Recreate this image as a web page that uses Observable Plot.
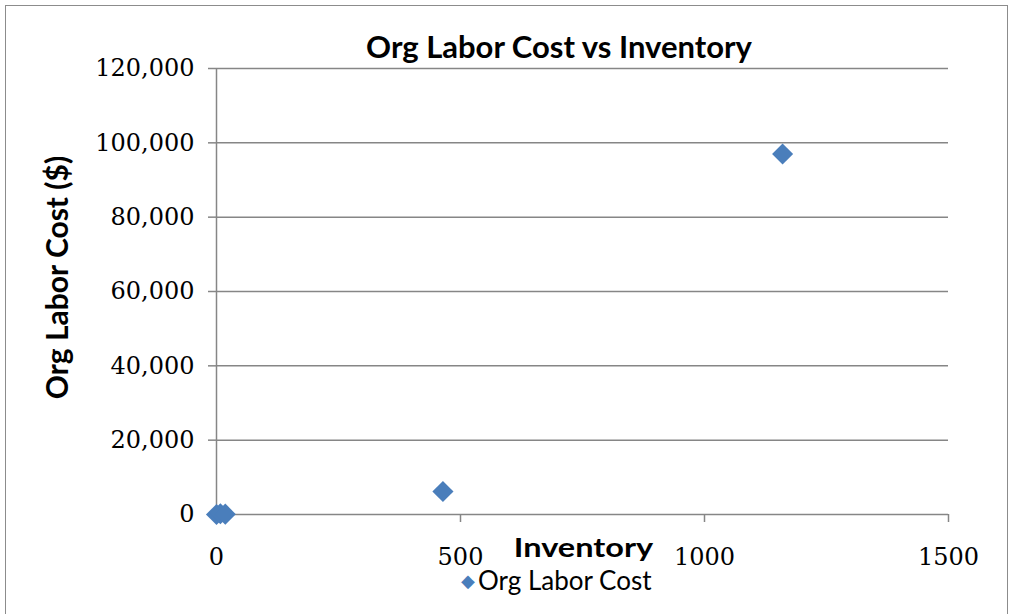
<!DOCTYPE html>
<html><head><meta charset="utf-8">
<script src="https://cdn.jsdelivr.net/npm/d3@7"></script>
<script src="https://cdn.jsdelivr.net/npm/@observablehq/plot@0.6"></script>
<style>
html,body{margin:0;padding:0;background:#fff;}
#wrap{position:relative;width:1010px;height:614px;overflow:hidden;}
#frame{position:absolute;left:5px;top:5px;width:1003px;height:620px;border:1px solid #8c8c8c;box-sizing:border-box;}
.t{position:absolute;white-space:nowrap;color:#000;font-family:Lato,"Open Sans",sans-serif;line-height:1;}
#title{left:0;width:1118px;top:31px;text-align:center;font-size:31px;font-weight:bold;}
#legend{left:461px;top:567px;font-size:26px;}
#legend span{color:#4a7ebb;font-size:18px;position:relative;top:-3px;margin-right:3px;}
#chart{position:absolute;left:0;top:0;}
</style></head>
<body><div id="wrap"><div id="frame"></div><div id="chart"></div>
<div class="t" id="title">Org Labor Cost vs Inventory</div>
<div class="t" id="legend"><span>◆</span>Org Labor Cost</div>
</div>
<script>
const inventory = [0, 8, 18, 464, 1160];
const laborCost = [0, 200, 100, 6200, 97000];
const yTicks = [0, 20000, 40000, 60000, 80000, 100000, 120000];
const xTicks = [0, 500, 1000, 1500];
const seriesName = "Org Labor Cost";

const data = inventory.map((x, i) => ({x, y: laborCost[i]}));
const fmt = d3.format(",");
const numFont = "DejaVu Serif, Liberation Serif, serif";
const labFont = "Lato, Open Sans, sans-serif";

const plot = Plot.plot({
  width: 1010, height: 614,
  marginLeft: 216, marginRight: 62, marginTop: 68, marginBottom: 100,
  style: {background: "transparent", fontFamily: numFont, fontSize: "24px", color: "#000"},
  x: {type: "linear", domain: [0, 1500]},
  y: {type: "linear", domain: [0, 120000]},
  marks: [
    Plot.gridY(yTicks, {stroke: "#868686", strokeOpacity: 1, strokeWidth: 1.5}),
    Plot.ruleX([0], {stroke: "#868686", strokeWidth: 1.5}),
    Plot.axisY({ticks: yTicks, tickFormat: fmt, tickSize: 8, tickPadding: 14, stroke: "#868686", strokeWidth: 1.5, label: null, fontSize: 24, fontFamily: numFont}),
    Plot.axisX({ticks: xTicks, tickFormat: d => String(d), tickSize: 8, tickPadding: 25, stroke: "#868686", strokeWidth: 1.5, label: null, fontSize: 24, fontFamily: numFont}),
    Plot.text(["Org Labor Cost ($)"], {frameAnchor: "left", textAnchor: "middle", dx: -158, dy: -14, rotate: -90, fontSize: 30, fontWeight: "bold", fontFamily: labFont}),
    Plot.text(["Inventory"], {frameAnchor: "bottom", dy: 42, dx: 1, fontSize: 26, fontWeight: "bold", fontFamily: labFont, className: "invlab"}),
    Plot.dot(data, {x: "x", y: "y", symbol: "diamond2", r: 9.5, fill: "#4a7ebb", stroke: "none"})
  ]
});
document.getElementById("chart").appendChild(plot);
d3.select(plot).selectAll(".invlab text").each(function() {
  const t = this.getAttribute("transform") || "";
  this.setAttribute("transform", t + " scale(1.25,1)");
});
</script></body></html>
